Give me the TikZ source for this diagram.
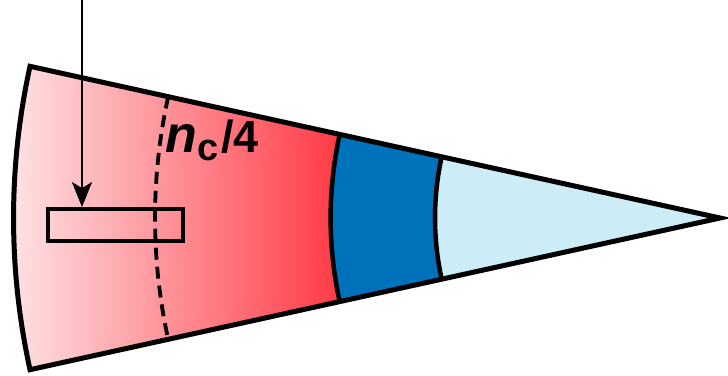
\documentclass[tikz,border=0pt]{standalone}
\usepackage{fontspec}
\setmainfont{Liberation Sans}
\usetikzlibrary{arrows.meta}
\definecolor{pinklight}{RGB}{254,228,231}
\definecolor{redstrong}{RGB}{255,58,68}
\definecolor{bluedark}{RGB}{0,114,188}
\definecolor{bluelight}{RGB}{204,236,248}
\begin{document}
\begin{tikzpicture}[x=1pt,y=1pt]
		\useasboundingbox (0,0) rectangle (728,375);
		
		\begin{scope}[shift={(720,157)}]
		\shade[left color=pinklight, right color=redstrong] (167.6:706.5) arc[start angle=167.6, end angle=192.4, radius=706.5] -- (192.4:389.4) arc[start angle=192.4, end angle=167.6, radius=389.4] -- cycle;
		\fill[bluedark] (167.6:389.4) arc[start angle=167.6, end angle=192.4, radius=389.4] -- (192.4:285) arc[start angle=192.4, end angle=167.6, radius=285] -- cycle;
		\fill[bluelight] (0,0) -- (167.6:285) arc[start angle=167.6, end angle=192.4, radius=285] -- cycle;
		
		\draw[line width=4.5pt] (167.6:389.4) arc[start angle=167.6, end angle=192.4, radius=389.4];
		\draw[line width=4.5pt] (167.6:285) arc[start angle=167.6, end angle=192.4, radius=285];
		\draw[line width=3.8pt, dash pattern=on 12pt off 7pt] (167.6:565) arc[start angle=167.6, end angle=192.4, radius=565];
		\draw[line width=5pt] (0,0) -- (167.6:706.5) arc[start angle=167.6, end angle=192.4, radius=706.5] -- cycle;
		\end{scope}
		
		\node[draw, line width=3.8pt, minimum width=135pt, minimum height=32pt, inner sep=0pt] (probe) at (115.5,150) {};
		\coordinate (src) at (82,375);
		\draw[line width=2.2pt, -{Stealth[length=25pt, width=20pt, inset=6pt]}] (src) -- (src |- probe.north);
		
		\node[anchor=base west, inner sep=0pt] (lbl) at (165,222) {\bfseries\fontsize{52}{52}\selectfont\itshape n\upshape\kern1pt\raisebox{-8pt}{\fontsize{38}{38}\selectfont c}\kern2pt\fontsize{45}{45}\selectfont/4};
	\end{tikzpicture}
\end{document}
